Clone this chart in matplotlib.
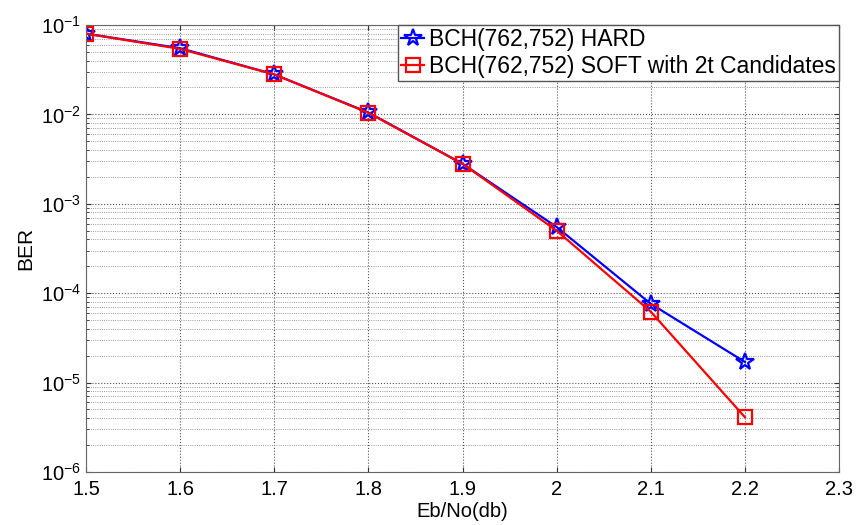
import matplotlib
matplotlib.use('Agg')
from matplotlib import pyplot as plt
import numpy as np

plt.rcParams['font.family'] = ['Liberation Sans', 'DejaVu Sans']
plt.rcParams['mathtext.fontset'] = 'custom'
plt.rcParams['mathtext.rm'] = 'Liberation Sans'
plt.rcParams['mathtext.it'] = 'Liberation Sans'

# Eb/No values (dB) and measured BER
ebno = [1.5, 1.6, 1.7, 1.8, 1.9, 2.0, 2.1, 2.2]
ber_hard = [0.080, 0.055, 0.028, 0.0105, 0.0028, 5.5e-4, 7.6e-5, 1.7e-5]
ber_soft = [0.080, 0.054, 0.028, 0.0104, 0.0028, 5.0e-4, 6.2e-5, 4.1e-6]

xticks = [1.5, 1.6, 1.7, 1.8, 1.9, 2.0, 2.1, 2.2, 2.3]
xticklabels = ['1.5', '1.6', '1.7', '1.8', '1.9', '2', '2.1', '2.2', '2.3']

fig = plt.figure(figsize=(8.56, 5.25), dpi=100)
ax = fig.add_axes([0.1005, 0.101, 0.8797, 0.8514])

ax.semilogy(ebno, ber_hard, '-*', color='blue', lw=1.6, ms=13,
            mfc='none', mew=1.6, label='BCH(762,752) HARD')
ax.semilogy(ebno, ber_soft, '-s', color='red', lw=1.6, ms=10,
            mfc='none', mew=1.6, label='BCH(762,752) SOFT with 2t Candidates')

ax.set_xlim(1.5, 2.3)
ax.set_ylim(1e-6, 1e-1)
ax.set_xticks(xticks)
ax.set_xticklabels(xticklabels)
ax.tick_params(labelsize=14.5, direction='in', which='both', top=True, right=True,
               colors='#333333', labelcolor='black')
ax.tick_params(axis='x', pad=6)
ax.set_xlabel('Eb/No(db)', fontsize=14.5, labelpad=2)
ax.set_ylabel('BER', fontsize=15, labelpad=4)

ax.grid(True, which='major', ls=':', color='#555555', lw=0.8)
ax.grid(True, which='minor', ls=':', color='#777777', lw=0.6)
for s in ax.spines.values():
    s.set_color('#666666')

leg = ax.legend(loc='upper right', fontsize=16.5, handlelength=1.0,
                handletextpad=0.2, borderpad=0.15, labelspacing=0.15,
                fancybox=False, framealpha=1, borderaxespad=0)
leg.get_frame().set_edgecolor('#555555')

fig.savefig('out.png', dpi=100)
